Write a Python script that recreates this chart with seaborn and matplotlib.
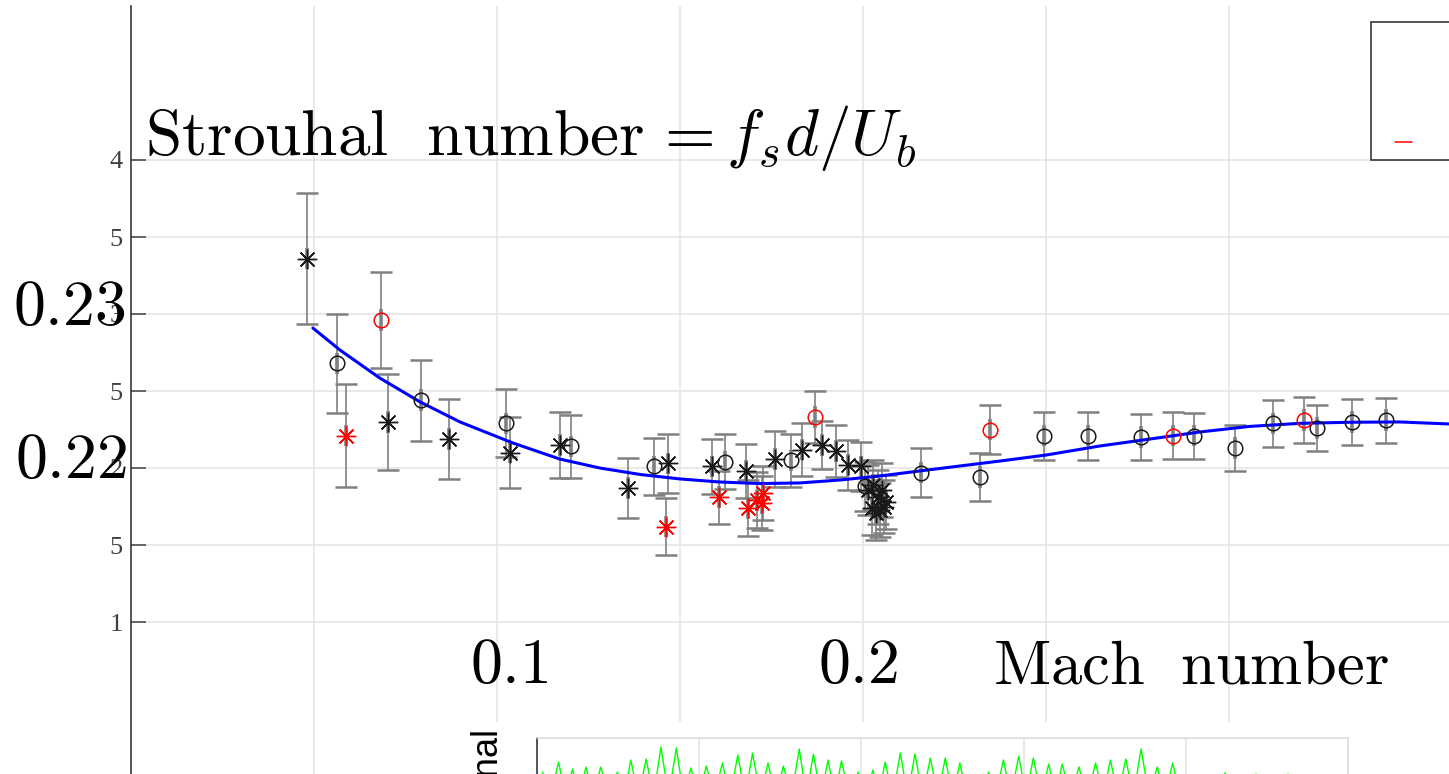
import numpy as np
import pandas as pd
import matplotlib
matplotlib.use("Agg")
import matplotlib.pyplot as plt
import seaborn as sns
from matplotlib.patches import Rectangle
from matplotlib.lines import Line2D

# ---------------- data ----------------
# black asterisks
mach_k_star = [0.0480, 0.0701, 0.0869, 0.1036, 0.1172, 0.1359, 0.1468, 0.1589, 0.1680,
               0.1760, 0.1833, 0.1887, 0.1926, 0.1960, 0.1996, 0.2014, 0.2027, 0.2041,
               0.2025, 0.2036, 0.2046, 0.2057, 0.2063, 0.2052]
st_k_star = [0.2336, 0.2230, 0.2219, 0.2210, 0.2215, 0.2187, 0.2203, 0.2201, 0.2198,
             0.2206, 0.2212, 0.2215, 0.2211, 0.2202, 0.2201, 0.2186, 0.2189, 0.2181,
             0.2174, 0.2171, 0.2173, 0.2175, 0.2178, 0.2186]
err_k_star = [0.00425, 0.00312, 0.00260, 0.00231, 0.00214, 0.00195, 0.00192, 0.00179, 0.00177,
              0.00182, 0.00169, 0.00156, 0.00166, 0.00162, 0.00162, 0.00162, 0.00162, 0.00175,
              0.00175, 0.00175, 0.00175, 0.00175, 0.00175, 0.00175]
# black circles
mach_k_circ = [0.0562, 0.0792, 0.1025, 0.1202, 0.1430, 0.1624, 0.1803, 0.2006, 0.2160,
               0.2320, 0.2495, 0.2614, 0.2759, 0.2904, 0.3018, 0.3121, 0.3240, 0.3337, 0.3429]
st_k_circ = [0.2268, 0.2244, 0.2229, 0.2214, 0.2201, 0.2204, 0.2205, 0.2188, 0.2197,
             0.2194, 0.2221, 0.2221, 0.2220, 0.2221, 0.2213, 0.2229, 0.2226, 0.2230, 0.2231]
err_k_circ = [0.00321, 0.00263, 0.00221, 0.00205, 0.00188, 0.00179, 0.00172, 0.00162, 0.00160,
              0.00156, 0.00156, 0.00156, 0.00151, 0.00149, 0.00151, 0.00151, 0.00149, 0.00149, 0.00146]
# red circles
mach_r_circ = [0.0682, 0.1870, 0.2348, 0.2848, 0.3205]
st_r_circ = [0.2296, 0.2233, 0.2225, 0.2221, 0.2231]
err_r_circ = [0.00312, 0.00169, 0.00158, 0.00151, 0.00149]
# red asterisks
mach_r_star = [0.0587, 0.1462, 0.1607, 0.1686, 0.1710, 0.1727, 0.1724]
st_r_star = [0.2221, 0.2162, 0.2181, 0.2174, 0.2179, 0.2184, 0.2177]
err_r_star = [0.00334, 0.00188, 0.00173, 0.00182, 0.00182, 0.00175, 0.00175]
inner_err = 0.0007

# fitted curve
fit_mach = [0.0497, 0.0571, 0.0680, 0.0790, 0.0899, 0.1044, 0.1172, 0.1281, 0.1391, 0.1500,
            0.1609, 0.1719, 0.1828, 0.1937, 0.2046, 0.2156, 0.2265, 0.2374, 0.2500, 0.2648,
            0.2784, 0.2921, 0.3057, 0.3194, 0.3331, 0.3467, 0.3601, 0.3700]
fit_st = [0.22909, 0.22766, 0.22584, 0.22429, 0.22299, 0.22162, 0.22058, 0.22000, 0.21958, 0.21929,
          0.21909, 0.21899, 0.21903, 0.21922, 0.21948, 0.21981, 0.22013, 0.22045, 0.22084, 0.22143,
          0.22188, 0.22234, 0.22270, 0.22290, 0.22297, 0.22299, 0.22286, 0.22272]

# axis ticks
ytick_vals = [0.21, 0.215, 0.22, 0.225, 0.23, 0.235, 0.24]
ytick_text = ["1", "5", "2", "5", "3", "5", "4"]
xgrid_vals = [0.05, 0.10, 0.15, 0.20, 0.25, 0.30]

# lower signal panel (peaks of the oscillating signal)
sig_t_peaks = [0.34, 1.33, 2.19, 3.02, 3.93, 4.96, 5.78, 6.73, 7.64, 8.59, 9.49, 10.44, 11.43,
               12.38, 13.29, 14.24, 15.19, 16.17, 17.04, 17.95, 18.77, 19.80, 20.71, 21.46,
               22.40, 23.30, 24.25, 25.17, 26.07, 26.94, 27.84, 28.75, 29.70, 30.60, 31.55,
               32.38, 33.41, 34.44, 35.35, 36.30, 37.24, 38.24, 39.19, 40.14, 41.06, 42.42,
               43.34, 44.33, 45.19, 46.30, 47.23, 48.15, 49.08]
sig_peaks = [0.66, 0.76, 0.69, 0.71, 0.71, 0.66, 0.78, 0.79, 0.91, 0.90, 0.70, 0.72, 0.75,
             0.83, 0.85, 0.75, 0.72, 0.89, 0.84, 0.78, 0.77, 0.66, 0.68, 0.76,
             0.85, 0.84, 0.80, 0.80, 0.75, 0.55, 0.66, 0.78, 0.82, 0.80, 0.74,
             0.74, 0.71, 0.75, 0.78, 0.79, 0.89, 0.71, 0.75, 0.50, 0.55, 0.65,
             0.58, 0.64, 0.62, 0.64, 0.55, 0.58, 0.60]
sig_trough = 0.42

# ---------------- figure ----------------
W, H = 1449, 774
sns.set_theme(style="white")
plt.rcParams["mathtext.fontset"] = "cm"
plt.rcParams["font.family"] = ["DejaVu Sans"]
plt.rcParams["text.color"] = "black"

fig = plt.figure(figsize=(W / 100, H / 100), dpi=100)
fig.patch.set_facecolor("white")

def fx(px):
    return px / W

def fy(py):
    return (H - py) / H

ax = fig.add_axes([131 / W, -2 / H, 1354 / W, 770 / H])
ax.set_facecolor("white")
ax.set_xlim(0, 0.37)
ax.set_ylim(0.2, 0.25)
ax.set_xticks(xgrid_vals)
ax.set_xticklabels([])
ax.set_yticks(ytick_vals)
ax.set_yticklabels(ytick_text, fontfamily="Liberation Serif", fontsize=19, color="#404040")
ax.tick_params(axis="y", direction="in", length=11, width=1.1, color="#404040", pad=6, left=True)
ax.tick_params(axis="x", length=0)
ax.grid(True, color="#e3e3e3", lw=1.1)
for s in ["top", "right", "bottom"]:
    ax.spines[s].set_visible(False)
ax.spines["left"].set_color("#262626")
ax.spines["left"].set_linewidth(1.1)

groups = [
    (mach_k_star, st_k_star, err_k_star, "k", "star"),
    (mach_k_circ, st_k_circ, err_k_circ, "k", "circ"),
    (mach_r_circ, st_r_circ, err_r_circ, "#ff0000", "circ"),
    (mach_r_star, st_r_star, err_r_star, "#ff0000", "star"),
]
for m, s, e, c, kind in groups:
    ax.errorbar(m, s, yerr=e, fmt="none", ecolor="#808080", elinewidth=1.2,
                capsize=8, capthick=1.8, zorder=2)
    ax.errorbar(m, s, yerr=inner_err, fmt="none", ecolor="#808080", elinewidth=2.6,
                capsize=0, zorder=2)

sns.lineplot(x=fit_mach, y=fit_st, ax=ax, color="#0000ff", lw=2.2, sort=False,
             estimator=None, zorder=3)

for m, s, e, c, kind in groups:
    if kind == "star":
        ax.plot(m, s, ls="none", marker=(8, 2, 0), ms=14, color=c, mec=c, mew=1.0, zorder=4)
    else:
        ax.plot(m, s, ls="none", marker="o", ms=10.5, mfc="none", mec=c, mew=1.1, zorder=4)

# overlaid large texts
big = 46
fig.text(fx(145), fy(155), r"$\mathrm{Strouhal\ \ number}\,= f_s d/U_b$", fontsize=big + 1,
         ha="left", va="baseline", color="black")
fig.text(fx(126), fy(325), r"$0.23$", fontsize=big, ha="right", va="baseline", color="black")
fig.text(fx(127), fy(478), r"$0.22$", fontsize=big, ha="right", va="baseline", color="black")
fig.text(fx(470), fy(683), r"$0.1$", fontsize=big, ha="left", va="baseline", color="black")
fig.text(fx(818), fy(683), r"$0.2$", fontsize=big, ha="left", va="baseline", color="black")
fig.text(fx(993), fy(683), r"$\mathrm{Mach\ \ number}$", fontsize=45, ha="left",
         va="baseline", color="black")

# legend box (cropped)
fig.add_artist(Rectangle((fx(1371), fy(160)), 200 / W, 138 / H, transform=fig.transFigure,
                         facecolor="white", edgecolor="#262626", lw=1.1, zorder=5))
fig.add_artist(Line2D([fx(1395), fx(1412)], [fy(142), fy(142)], transform=fig.transFigure,
                      color="#ff0000", lw=1.1, zorder=6))

# lower panel
fig.add_artist(Rectangle((fx(440), 0), (W - 440) / W, 52 / H, transform=fig.transFigure,
                         facecolor="white", edgecolor="none", zorder=1))
ax2 = fig.add_axes([537 / W, (H - 938) / H, 811 / W, 200 / H], zorder=2)
ax2.set_facecolor("white")
ax2.set_xlim(0, 50)
ax2.set_ylim(-1, 1)
ax2.set_xticks([10, 20, 30, 40])
ax2.set_yticks([])
ax2.set_xticklabels([])
ax2.tick_params(length=0)
ax2.grid(True, axis="x", color="#e3e3e3", lw=1.1)
ax2.spines["bottom"].set_visible(False)
ax2.spines["left"].set_color("#262626")
for s in ["top", "right"]:
    ax2.spines[s].set_color("#d9d9d9")
for s in ["top", "right", "left"]:
    ax2.spines[s].set_linewidth(1.1)

sig_t, sig_v = [], []
for i, (t, v) in enumerate(zip(sig_t_peaks, sig_peaks)):
    sig_t.append(t)
    sig_v.append(v)
    if i < len(sig_t_peaks) - 1:
        sig_t.append((t + sig_t_peaks[i + 1]) / 2)
        sig_v.append(sig_trough)
sns.lineplot(x=sig_t, y=sig_v, ax=ax2, color="#00ff00", lw=1.0, sort=False, estimator=None)

fig.text(fx(504), fy(727), "Signal", rotation=90, ha="right", va="top", fontsize=26,
         fontfamily="Liberation Sans", color="black")

fig.savefig("out.png", dpi=100)
